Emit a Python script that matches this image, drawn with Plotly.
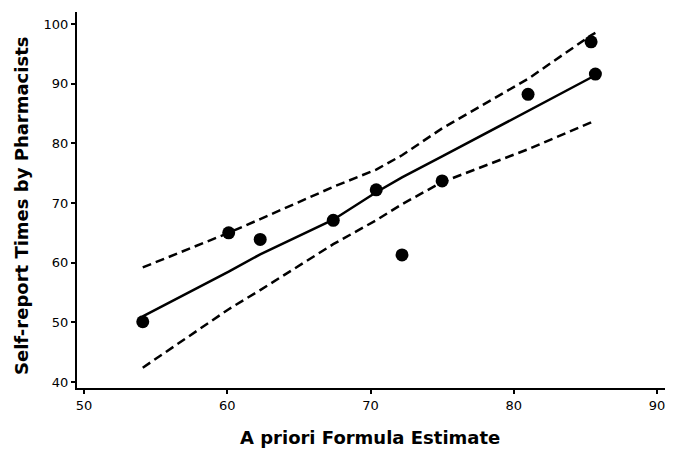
import plotly.graph_objects as go

# Observed data points
formula_estimate = [54.1, 60.1, 62.3, 67.4, 70.4, 72.2, 75.0, 81.0, 85.4, 85.7]
self_report = [50.1, 65.0, 63.9, 67.1, 72.2, 61.3, 73.7, 88.2, 97.0, 91.6]

# Fitted line and confidence band read at the data x values
fit_x = [54.1, 60.1, 62.3, 67.4, 70.4, 72.2, 75.0, 81.0, 85.4, 85.7]
fit_y = [51.0, 58.5, 61.4, 67.2, 71.8, 74.3, 77.8, 85.4, 91.0, 91.4]
upper_y = [59.2, 65.0, 67.3, 72.7, 75.6, 78.0, 82.5, 90.8, 98.1, 98.5]
lower_y = [42.4, 52.2, 55.4, 63.1, 67.1, 69.8, 73.5, 79.0, 83.5, 83.9]

x_ticks = [50, 60, 70, 80, 90]
y_ticks = [40, 50, 60, 70, 80, 90, 100]
x_title = "A priori Formula Estimate"
y_title = "Self-report Times by Pharmacists"

fig = go.Figure()
dash_style = dict(color="black", width=2.5, dash="9px,5px")
fig.add_trace(go.Scatter(x=fit_x, y=upper_y, mode="lines", line=dash_style, showlegend=False))
fig.add_trace(go.Scatter(x=fit_x, y=lower_y, mode="lines", line=dash_style, showlegend=False))
fig.add_trace(go.Scatter(x=fit_x, y=fit_y, mode="lines",
                         line=dict(color="black", width=2.5), showlegend=False))
fig.add_trace(go.Scatter(x=formula_estimate, y=self_report, mode="markers",
                         marker=dict(color="black", size=13), showlegend=False))

axis_common = dict(
    showline=True, linecolor="black", linewidth=2,
    ticks="outside", ticklen=4, tickwidth=1.5, tickcolor="black",
    showgrid=False, zeroline=False, ticklabeloverflow="allow",
    tickfont=dict(family="DejaVu Sans", size=13, color="black"),
)
fig.update_xaxes(range=[49.51, 90.56], tickvals=x_ticks, **axis_common)
fig.update_yaxes(range=[39.0, 102.0], tickvals=y_ticks, **axis_common)

plot_w = 588
title_font = dict(family="DejaVu Sans", size=18, color="black", weight="bold")
fig.add_annotation(text=x_title, xref="paper", yref="paper",
                   x=(370 - 77) / plot_w, y=(388 - 438) / 376,
                   xanchor="center", yanchor="middle", showarrow=False, font=title_font)
fig.add_annotation(text=y_title, xref="paper", yref="paper",
                   x=(21 - 77) / plot_w, y=(388 - 206) / 376, textangle=-90,
                   xanchor="center", yanchor="middle", showarrow=False, font=title_font)

# page body adds an 8px offset, so the figure is sized to fit inside the window
fig.update_layout(
    width=666, height=442,
    margin=dict(l=69, r=9, t=4, b=62),
    plot_bgcolor="white", paper_bgcolor="white",
)
fig.write_html("out.html")
